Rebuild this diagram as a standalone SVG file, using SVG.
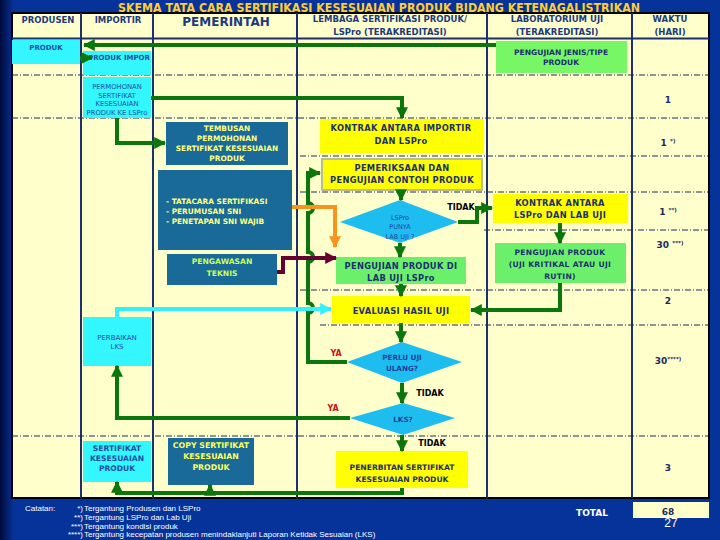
<svg xmlns="http://www.w3.org/2000/svg" width="720" height="540" viewBox="0 0 720 540">
<defs>
<linearGradient id="bgl" x1="0" y1="0" x2="1" y2="0">
<stop offset="0" stop-color="#000a3a"/><stop offset="1" stop-color="#06339a"/>
</linearGradient>
<marker id="ag" viewBox="0 0 10 10" refX="9" refY="5" markerWidth="3" markerHeight="3" orient="auto" markerUnits="strokeWidth">
<path d="M0,0 L10,5 L0,10 Z" fill="#0b760b"/>
</marker>
<marker id="ao" viewBox="0 0 10 10" refX="9" refY="5" markerWidth="3" markerHeight="3" orient="auto" markerUnits="strokeWidth">
<path d="M0,0 L10,5 L0,10 Z" fill="#f7941d"/>
</marker>
<marker id="am" viewBox="0 0 10 10" refX="9" refY="5" markerWidth="3" markerHeight="3" orient="auto" markerUnits="strokeWidth">
<path d="M0,0 L10,5 L0,10 Z" fill="#660033"/>
</marker>
<marker id="ac" viewBox="0 0 10 10" refX="9" refY="5" markerWidth="3" markerHeight="3" orient="auto" markerUnits="strokeWidth">
<path d="M0,0 L10,5 L0,10 Z" fill="#33f0ff"/>
</marker>
</defs>
<style>
.t{font-family:"DejaVu Sans",Verdana,sans-serif;font-weight:bold;text-anchor:middle}
.st{text-anchor:start}
.nw{font-weight:normal}
.hd{font-size:8.5px;fill:#1c3a80}
.bx{font-size:8.3px;letter-spacing:0.3px;fill:#1c3070}
.bs{font-size:7.6px;fill:#1c3070}
.cy{font-size:7px;fill:#1f4fa0}
.cs{font-size:6.8px;fill:#1f4fa0}
.cb{font-size:7.6px;fill:#1f4fa0}
.dt{font-size:6.5px;fill:#1f3f9f}
.tl{font-size:7.4px;fill:#ffff80}
.ty{font-size:7.8px;fill:#ffff55}
.tg{font-size:7.6px;fill:#ccff55}
.lb{font-size:8px;fill:#000000}
.ya{font-size:8px;fill:#cc1111}
.wk{font-size:9px;fill:#1c2a60}
.sup{font-size:5.5px}
.grid{stroke:#1c2f6e;stroke-width:2;fill:none}
.dd{stroke:#1c2a5c;stroke-width:1;stroke-dasharray:6 2 1 2;fill:none}
.g{stroke:#0b760b;stroke-width:4;fill:none}
.cyb{fill:#33f6ff}
.tb{fill:#196a98}
.yb{fill:#ffff00}
.gb{fill:#6cf06c}
.dm{fill:#1ebdf0}
.note{font-family:"Liberation Sans",Arial,sans-serif;font-size:8px;fill:#ffffff}
</style>
<rect x="0" y="0" width="720" height="540" fill="#06339a"/>
<rect x="0" y="0" width="14" height="540" fill="url(#bgl)"/>
<text x="379" y="12" font-family="DejaVu Sans,Verdana,sans-serif" font-weight="bold" font-size="12.5" fill="#ffcc33" text-anchor="middle" textLength="522" lengthAdjust="spacingAndGlyphs">SKEMA TATA CARA SERTIFIKASI KESESUAIAN PRODUK BIDANG KETENAGALISTRIKAN</text>
<rect x="12" y="13" width="697" height="485" fill="#ffffcc" stroke="#000000" stroke-width="2"/>
<g id="grid">
<line class="grid" x1="12" y1="38.5" x2="709" y2="38.5"/>
<line class="grid" x1="81" y1="13" x2="81" y2="498"/>
<line class="grid" x1="153" y1="13" x2="153" y2="498"/>
<line class="grid" x1="297" y1="13" x2="297" y2="498"/>
<line class="grid" x1="487" y1="13" x2="487" y2="498"/>
<line class="grid" x1="632" y1="13" x2="632" y2="498"/>
<line class="dd" x1="12" y1="75" x2="708" y2="75"/>
<line class="dd" x1="12" y1="118" x2="708" y2="118"/>
<line class="dd" x1="300" y1="156" x2="708" y2="156"/>
<line class="dd" x1="300" y1="192" x2="708" y2="192"/>
<line class="dd" x1="484" y1="230" x2="708" y2="230"/>
<line class="dd" x1="300" y1="290" x2="708" y2="290"/>
<line class="dd" x1="320" y1="325" x2="708" y2="325"/>
<line class="dd" x1="12" y1="436" x2="708" y2="436"/>
</g>
<g id="header">
<text class="t hd" x="48" y="23">PRODUSEN</text>
<text class="t hd" x="118" y="23">IMPORTIR</text>
<text class="t" x="226" y="26" font-size="12" fill="#1c3a80">PEMERINTAH</text>
<text class="t hd" x="390" y="22">LEMBAGA SERTIFIKASI PRODUK/</text>
<text class="t hd" x="390" y="35">LSPro (TERAKREDITASI)</text>
<text class="t hd" x="557" y="22">LABORATORIUM UJI</text>
<text class="t hd" x="557" y="35">(TERAKREDITASI)</text>
<text class="t hd" x="670" y="22">WAKTU</text>
<text class="t hd" x="670" y="35">(HARI)</text>
</g>
<g id="n-produk"><rect class="cyb" x="12" y="40" width="68" height="24"/><text class="t cy" x="46" y="50">PRODUK</text></g>
<g id="n-produk-impor"><rect class="cyb" x="83" y="51" width="68" height="24"/><text class="t cy" x="119" y="60">PRODUK IMPOR</text></g>
<g id="n-permohonan"><rect class="cyb" x="83" y="77" width="68" height="41"/>
<text class="t cs nw" x="117" y="88.5">PERMOHONAN</text>
<text class="t cs nw" x="117" y="97.5">SERTIFIKAT</text>
<text class="t cs nw" x="117" y="105.5">KESESUAIAN</text>
<text class="t cs nw" x="117" y="114.5">PRODUK KE LSPro</text></g>
<g id="n-tembusan"><rect class="tb" x="166" y="122" width="122" height="43"/>
<text class="t tl" x="227" y="131">TEMBUSAN</text>
<text class="t tl" x="227" y="141">PERMOHONAN</text>
<text class="t tl" x="227" y="151">SERTIFIKAT KESESUAIAN</text>
<text class="t tl" x="227" y="161">PRODUK</text></g>
<g id="n-tatacara"><rect class="tb" x="158" y="170" width="134" height="80"/>
<text class="t tl st" x="166" y="204">- TATACARA SERTIFIKASI</text>
<text class="t tl st" x="166" y="214">- PERUMUSAN SNI</text>
<text class="t tl st" x="166" y="224">- PENETAPAN SNI WAJIB</text></g>
<g id="n-pengawasan"><rect class="tb" x="167" y="254" width="110" height="31"/>
<text class="t tg" x="222" y="264">PENGAWASAN</text>
<text class="t tg" x="222" y="276">TEKNIS</text></g>
<g id="n-kontrak-imp"><rect class="yb" x="320" y="119" width="164" height="34"/>
<text class="t bx" x="401" y="130.5">KONTRAK ANTARA IMPORTIR</text>
<text class="t bx" x="401" y="143.5">DAN LSPro</text></g>
<g id="n-pemeriksaan"><rect class="yb" x="322" y="159" width="160" height="31" stroke="#bbbb99" stroke-width="2"/>
<text class="t bx" x="402" y="170.5">PEMERIKSAAN DAN</text>
<text class="t bx" x="402" y="182.5">PENGUJIAN CONTOH PRODUK</text></g>
<g id="n-punya-lab"><polygon class="dm" points="400,200 458,222 400,243 340,222"/>
<text class="t dt nw" x="400" y="219.5">LSPro</text>
<text class="t dt nw" x="400" y="228.5">PUNYA</text>
<text class="t dt nw" x="400" y="238.5">LAB UJI ?</text></g>
<g id="n-uji-lspro"><rect class="gb" x="336" y="257" width="130" height="27"/>
<text class="t bx" x="401" y="268.5">PENGUJIAN PRODUK DI</text>
<text class="t bx" x="401" y="280.5">LAB UJI LSPro</text></g>
<g id="n-evaluasi"><rect class="yb" x="332" y="296" width="138" height="27"/>
<text class="t bx" x="401" y="313.5">EVALUASI HASIL UJI</text></g>
<g id="n-perlu"><polygon class="dm" points="402,342 462,362 402,383 347,362"/>
<text class="t dt" x="402" y="360" style="font-size:7.2px">PERLU UJI</text>
<text class="t dt" x="402" y="371" style="font-size:7.2px">ULANG?</text></g>
<g id="n-lks"><polygon class="dm" points="403,403 455,418 403,435 350,418"/>
<text class="t dt" x="403" y="421.5" style="font-size:7.2px">LKS?</text></g>
<g id="n-penerbitan"><rect class="yb" x="336" y="451" width="132" height="37"/>
<text class="t bs" x="402" y="469.5">PENERBITAN SERTIFIKAT</text>
<text class="t bs" x="402" y="481.5">KESESUAIAN PRODUK</text></g>
<g id="n-kontrak-lab"><rect class="yb" x="493" y="194" width="135" height="29"/>
<text class="t bx" x="560" y="205.5">KONTRAK ANTARA</text>
<text class="t bx" x="560" y="217.5">LSPro DAN LAB UJI</text></g>
<g id="n-uji-lab"><rect class="gb" x="495" y="243" width="131" height="40"/>
<text class="t bs" x="560" y="254.5" style="letter-spacing:0.3px">PENGUJIAN PRODUK</text>
<text class="t bs" x="560" y="266.5" style="letter-spacing:0.3px">(UJI KRITIKAL ATAU UJI</text>
<text class="t bs" x="560" y="278.5" style="letter-spacing:0.3px">RUTIN)</text></g>
<g id="n-uji-jenis"><rect x="496" y="41" width="131" height="32" fill="#77f766"/>
<text class="t bs" x="561" y="55">PENGUJIAN JENIS/TIPE</text>
<text class="t bs" x="561" y="65">PRODUK</text></g>
<g id="n-perbaikan"><rect class="cyb" x="83" y="317" width="68" height="49"/>
<text class="t cy nw" x="117" y="339.5">PERBAIKAN</text>
<text class="t cy nw" x="117" y="348.5">LKS</text></g>
<g id="n-sertifikat"><rect class="cyb" x="83" y="441" width="68" height="41"/>
<text class="t cb" x="117" y="450.5">SERTIFIKAT</text>
<text class="t cb" x="117" y="460.5">KESESUAIAN</text>
<text class="t cb" x="117" y="471">PRODUK</text></g>
<g id="n-copy"><rect class="tb" x="168" y="438" width="86" height="47"/>
<text class="t ty" x="211" y="447.5">COPY SERTIFIKAT</text>
<text class="t ty" x="211" y="458.5">KESESUAIAN</text>
<text class="t ty" x="211" y="469.5">PRODUK</text></g>
<g id="connectors">
<path class="g" d="M496,45 H84" marker-end="url(#ag)"/>
<path class="g" d="M80,58 H92" marker-end="url(#ag)"/>
<path class="g" d="M151,98 H402 V118" marker-end="url(#ag)"/>
<path class="g" d="M117,118 V143 H165" marker-end="url(#ag)"/>
<path class="g" d="M347,362 H308 V313 a5,5 0 0 0 0,-10 V262 a5,5 0 0 0 0,-10 V213 a5,5 0 0 0 0,-10 V173 H320" marker-end="url(#ag)"/>
<path d="M292,207 H335 V247" stroke="#f7941d" stroke-width="4" fill="none" marker-end="url(#ao)"/>
<path d="M277,272 H283 V258 H336" stroke="#660033" stroke-width="4" fill="none" marker-end="url(#am)"/>
<path d="M117,317 V309 H331" stroke="#33f0ff" stroke-width="4" fill="none" marker-end="url(#ac)"/>
<path class="g" d="M401,190 V200" marker-end="url(#ag)"/>
<path class="g" d="M400,243 V257" marker-end="url(#ag)"/>
<path class="g" d="M401,284 V296" marker-end="url(#ag)"/>
<path class="g" d="M401,323 V342" marker-end="url(#ag)"/>
<path class="g" d="M402,383 V403" marker-end="url(#ag)"/>
<path class="g" d="M402,435 V451" marker-end="url(#ag)"/>
<path class="g" d="M458,222 H477 V208 H492" marker-end="url(#ag)"/>
<path class="g" d="M560,223 V243" marker-end="url(#ag)"/>
<path class="g" d="M560,283 V310 H471" marker-end="url(#ag)"/>
<path class="g" d="M350,418 H117 V366" marker-end="url(#ag)"/>
<path class="g" d="M402,488 V493 H117 V482" marker-end="url(#ag)"/>
<path class="g" d="M210,493 V485" marker-end="url(#ag)"/>
</g>
<g id="labels">
<text class="t lb" x="461" y="210">TIDAK</text>
<text class="t lb" x="430" y="396">TIDAK</text>
<text class="t lb" x="432" y="446">TIDAK</text>
<text class="t ya" x="336" y="356">YA</text>
<text class="t ya" x="333" y="411">YA</text>
</g>
<g id="waktu">
<text class="t wk" x="668" y="103">1</text>
<text class="t wk" x="668" y="146">1 <tspan class="sup" dy="-3">*)</tspan></text>
<text class="t wk" x="668" y="215">1 <tspan class="sup" dy="-3">**)</tspan></text>
<text class="t wk" x="670" y="248">30 <tspan class="sup" dy="-3">***)</tspan></text>
<text class="t wk" x="668" y="304">2</text>
<text class="t wk" x="668" y="364">30<tspan class="sup" dy="-3">****)</tspan></text>
<text class="t wk" x="668" y="471">3</text>
</g>
<g id="total">
<text class="t" x="592" y="516" font-size="9" fill="#ffffff">TOTAL</text>
<rect x="633" y="502" width="76" height="16" fill="#ffffcc"/>
<text class="t wk" x="668" y="515">68</text>
<text x="671" y="527" font-family="Liberation Sans,Arial,sans-serif" font-size="12" fill="#ffffff" text-anchor="middle">27</text>
</g>
<g id="notes">
<text class="note" x="25" y="511">Catatan:</text>
<text class="note" x="83" y="511" text-anchor="end">*)</text>
<text class="note" x="83" y="520" text-anchor="end">**)</text>
<text class="note" x="83" y="529" text-anchor="end">***)</text>
<text class="note" x="83" y="537" text-anchor="end">****)</text>
<text class="note" x="84" y="511">Tergantung Produsen dan LSPro</text>
<text class="note" x="84" y="520">Tergantung LSPro dan Lab Uji</text>
<text class="note" x="84" y="529">Tergantung kondisi produk</text>
<text class="note" x="84" y="537">Tergantung kecepatan produsen menindaklanjuti Laporan Ketidak Sesuaian (LKS)</text>
</g>
</svg>
